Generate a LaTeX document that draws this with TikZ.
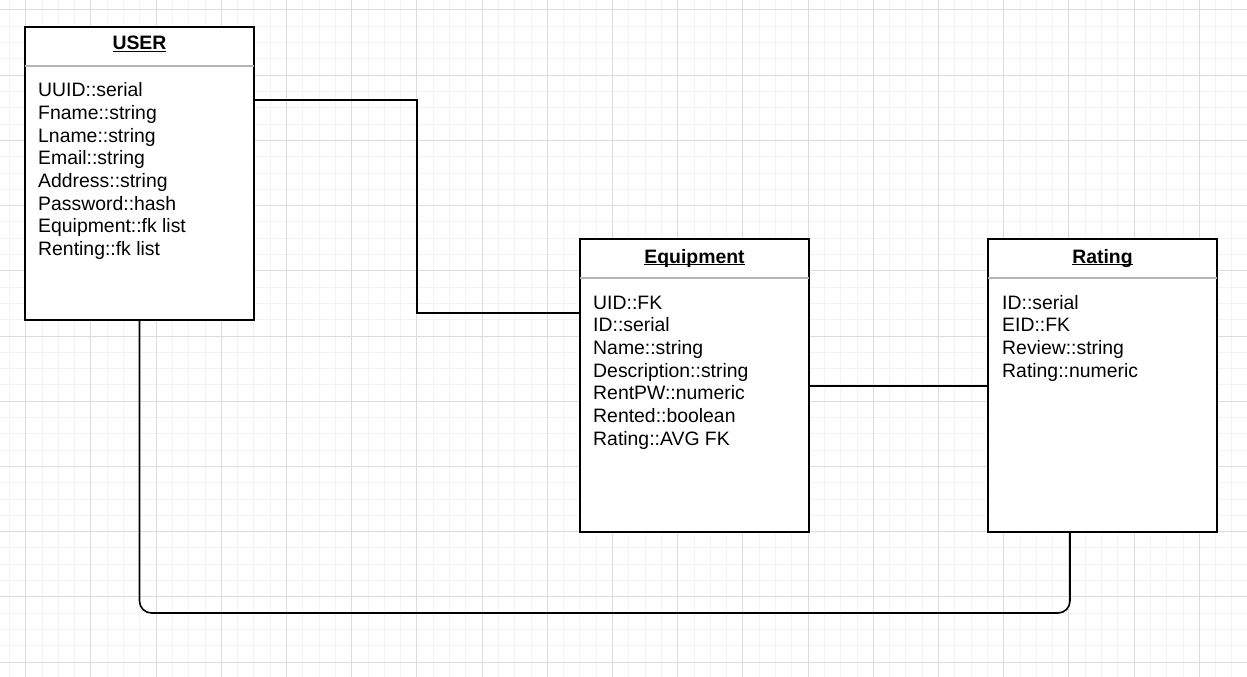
\documentclass[tikz,border=0pt]{standalone}
\usepackage{fontspec}
\setmainfont{Liberation Sans}
\usetikzlibrary{calc}
\definecolor{gridminor}{HTML}{F3F3F3}
\definecolor{gridmajor}{HTML}{DCDCDC}
\definecolor{sepgray}{HTML}{B4B4B4}
\newcommand{\myul}[1]{\setbox0\hbox{#1}\rlap{\rule[-2.2pt]{\wd0}{1.3pt}}\box0}
\tikzset{
 classbox/.style={draw=black, line width=1.6pt, fill=white, rectangle, minimum width=229pt, minimum height=293pt, inner sep=0pt, outer sep=0pt},
 ctitle/.style={font=\fontsize{19.4}{22.7}\selectfont\bfseries, anchor=base, inner sep=0pt},
 field/.style={font=\fontsize{19.4}{22.7}\selectfont, anchor=base west, inner sep=0pt},
 sepline/.style={draw=sepgray, line width=1.4pt},
 conn/.style={draw=black, line width=1.6pt},
 gmin/.style={draw=gridminor, line width=1pt},
 gmaj/.style={draw=gridmajor, line width=1pt},
}
\begin{document}
\begin{tikzpicture}[x=1pt,y=-1pt]
\useasboundingbox (0,0) rectangle (1247,677);
\fill[white] (0,0) rectangle (1247,677);
% grid
\foreach \i in {-1,...,74} { \draw[gmin] ({25.7+16.3*\i},0) -- ({25.7+16.3*\i},677); }
\foreach \j in {-1,...,39} { \draw[gmin] (0,{26.3+16.3*\j}) -- (1247,{26.3+16.3*\j}); }
\foreach \i in {0,4,...,72} { \draw[gmaj] ({25.7+16.3*\i},0) -- ({25.7+16.3*\i},677); }
\foreach \j in {-1,3,...,39} { \draw[gmaj] (0,{26.3+16.3*\j}) -- (1247,{26.3+16.3*\j}); }

% class boxes
\node[classbox] (user) at (139.5,173.5) {};
\node[classbox] (equip) at (694.5,385.5) {};
\node[classbox] (rating) at (1102.5,385.5) {};

% connectors
\draw[conn] (user.east |- 0,100) -| (417,313) -- (equip.west |- 0,313);
\draw[conn] (equip.east |- 0,386) -- (rating.west |- 0,386);
\draw[conn, rounded corners=12pt] (user.south) -- (user.south |- 0,613) -- (1070,613) -- (rating.south -| 1070,0);

% separators
\draw[sepline] (user.west |- 0,66) -- (user.east |- 0,66);
\draw[sepline] (equip.west |- 0,278) -- (equip.east |- 0,278);
\draw[sepline] (rating.west |- 0,278) -- (rating.east |- 0,278);

% titles
\node[ctitle] (usert) at (139.5,50) {\myul{USER}};
\node[ctitle] (equipt) at (694.5,263) {\myul{Equipment}};
\node[ctitle] (ratingt) at (1102.5,263) {\myul{Rating}};

% fields
\foreach \t [count=\k from 0] in {UUID::serial, Fname::string, Lname::string, Email::string, Address::string, Password::hash, Equipment::fk list, Renting::fk list}
  { \node[field] (uf\k) at (38,{96.7+22.7*\k}) {\t}; }
\foreach \t [count=\k from 0] in {UID::FK, ID::serial, Name::string, Description::string, RentPW::numeric, Rented::boolean, Rating::AVG FK}
  { \node[field] (ef\k) at (593,{309+22.7*\k}) {\t}; }
\foreach \t [count=\k from 0] in {ID::serial, EID::FK, Review::string, Rating::numeric}
  { \node[field] (rf\k) at (1002,{309+22.7*\k}) {\t}; }
\end{tikzpicture}
\end{document}
